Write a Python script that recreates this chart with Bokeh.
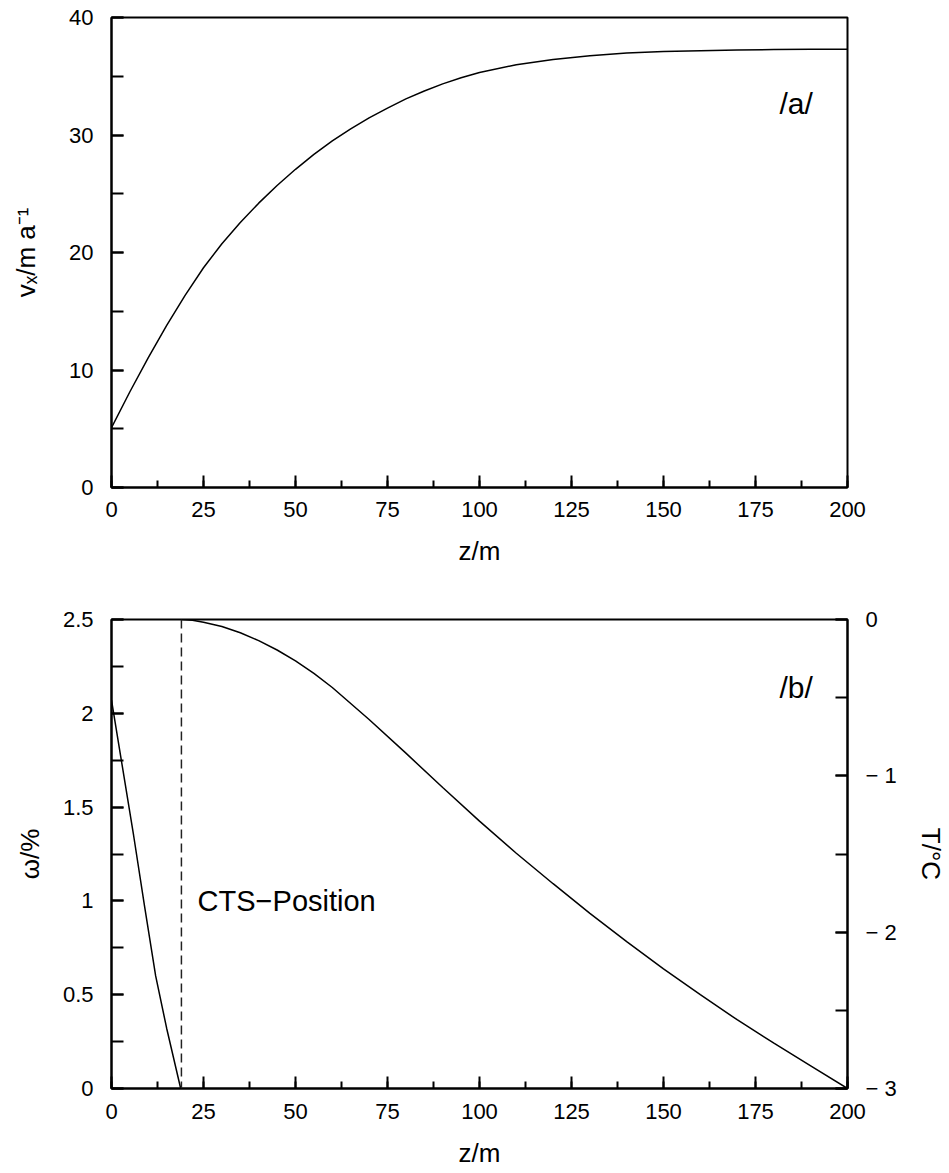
from bokeh.plotting import figure
from bokeh.models import (Range1d, LinearAxis, SingleIntervalTicker, Label,
                          CustomJSTickFormatter, Span)
from bokeh.layouts import column
from bokeh.embed import file_html
from bokeh.resources import INLINE

# ---------------- data ----------------
# panel /a/ : horizontal velocity vs depth
z_vx = [0, 5, 10, 15, 20, 25, 30, 35, 40, 45, 50, 55, 60, 65, 70, 75, 80, 85,
        90, 95, 100, 110, 120, 130, 140, 150, 160, 170, 180, 190, 200]
vx = [5.1, 8.15, 11.05, 13.8, 16.35, 18.7, 20.75, 22.55, 24.2, 25.7, 27.08,
      28.35, 29.5, 30.53, 31.46, 32.29, 33.07, 33.75, 34.35, 34.87, 35.32,
      35.98, 36.43, 36.75, 36.97, 37.1, 37.18, 37.24, 37.27, 37.29, 37.3]

# panel /b/ : water content (left axis) and temperature (right axis)
z_omega = [0, 3, 6, 9, 12, 15, 18.8]
omega = [2.07, 1.71, 1.35, 0.97, 0.60, 0.32, 0.0]

z_T = [19, 22, 25, 30, 35, 40, 45, 50, 55, 60, 70, 80, 90, 100, 110, 120,
       130, 140, 150, 160, 170, 180, 190, 200]
T = [0.0, -0.005, -0.018, -0.045, -0.085, -0.135, -0.195, -0.265, -0.345,
     -0.435, -0.64, -0.855, -1.075, -1.29, -1.495, -1.69, -1.88, -2.06,
     -2.235, -2.40, -2.56, -2.71, -2.855, -3.0]

cts_z = 19.0

x_ticks = (0, 200, 25)
vx_ticks = (0, 40, 10)
omega_ticks = (0, 2.5, 0.5)
T_ticks = (-3, 0, 1)

FONT = "Liberation Sans"

fmt = CustomJSTickFormatter(code="""
    var v = parseFloat(tick.toFixed(3));
    if (v < 0) { return '\\u2212 ' + Math.abs(v).toString(); }
    return v.toString();
""")


def style_axis(ax, interval, minor_len=7):
    ax.ticker = SingleIntervalTicker(interval=interval, num_minor_ticks=2)
    ax.formatter = fmt
    ax.axis_line_width = 2
    ax.axis_line_color = "black"
    ax.major_tick_line_width = 2
    ax.minor_tick_line_width = 2
    ax.major_tick_line_color = "black"
    ax.minor_tick_line_color = "black"
    ax.major_tick_in = 12
    ax.major_tick_out = 0
    ax.minor_tick_in = minor_len
    ax.minor_tick_out = 0
    ax.major_label_text_font = FONT
    ax.major_label_text_font_size = "22px"
    ax.major_label_text_color = "black"
    ax.axis_label_text_font = FONT
    ax.axis_label_text_font_size = "26px"
    ax.axis_label_text_font_style = "normal"
    ax.axis_label_text_color = "black"


def make_fig(height, top, bottom):
    p = figure(width=949, height=height, output_backend="svg",
               toolbar_location=None, min_border_left=111,
               min_border_right=102, min_border_top=top,
               min_border_bottom=bottom,
               x_range=Range1d(x_ticks[0], x_ticks[1]))
    p.xgrid.grid_line_color = None
    p.ygrid.grid_line_color = None
    p.outline_line_color = "black"
    p.outline_line_width = 2
    p.outline_line_alpha = 1.0
    p.background_fill_color = "white"
    p.border_fill_color = "white"
    return p


# ---------------- panel a ----------------
pa = make_fig(588, 17, 101)
pa.y_range = Range1d(vx_ticks[0], vx_ticks[1])
style_axis(pa.xaxis[0], x_ticks[2])
style_axis(pa.yaxis[0], vx_ticks[2], minor_len=12)
pa.xaxis[0].axis_label = "z/m"
pa.xaxis[0].major_label_standoff = 14
pa.xaxis[0].axis_label_standoff = 16
pa.yaxis[0].axis_label = "v\u2093/m a\u207b\u00b9"
pa.yaxis[0].major_label_standoff = 18
pa.yaxis[0].axis_label_standoff = 25
pa.line(z_vx, vx, line_color="black", line_width=1.5)
pa.add_layout(Label(x=181.5, y=32.7, text="/a/", text_font=FONT,
                    text_font_size="30px", text_color="black",
                    text_baseline="alphabetic"))

# ---------------- panel b ----------------
pb = make_fig(584, 31, 84)
pb.y_range = Range1d(omega_ticks[0], omega_ticks[1])
pb.extra_y_ranges = {"T": Range1d(T_ticks[0], T_ticks[1])}
style_axis(pb.xaxis[0], x_ticks[2])
style_axis(pb.yaxis[0], omega_ticks[2], minor_len=12)
pb.xaxis[0].axis_label = "z/m"
pb.xaxis[0].major_label_standoff = 15
pb.xaxis[0].axis_label_standoff = 16
pb.yaxis[0].axis_label = "\u03c9/%"
pb.yaxis[0].major_label_standoff = 18
pb.yaxis[0].axis_label_standoff = 15

rax = LinearAxis(y_range_name="T")
style_axis(rax, T_ticks[2], minor_len=12)
rax.axis_label = "T/\u00b0C"
rax.major_label_standoff = 18
rax.axis_label_standoff = 16
pb.add_layout(rax, "right")

pb.line(z_omega, omega, line_color="black", line_width=1.5)
pb.line(z_T, T, y_range_name="T", line_color="black", line_width=1.5)
pb.add_layout(Span(location=cts_z, dimension="height", line_color="#222222",
                   line_width=1.5, line_dash="9 5"))
pb.add_layout(Label(x=23.4, y=1.0, text="CTS\u2212Position", text_font=FONT,
                    text_font_size="29px", text_color="black",
                    text_baseline="alphabetic"))
pb.add_layout(Label(x=181.5, y=2.14, text="/b/", text_font=FONT,
                    text_font_size="30px", text_color="black",
                    text_baseline="alphabetic"))

layout = column(pa, pb, spacing=0)
open("out.html", "w").write(file_html(layout, INLINE))
